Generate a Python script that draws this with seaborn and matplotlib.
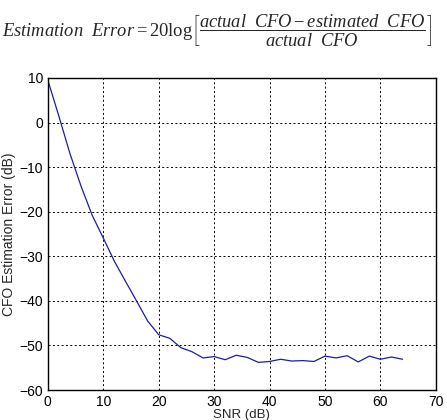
import matplotlib
matplotlib.use("Agg")
import matplotlib.pyplot as plt
import seaborn as sns
import pandas as pd

snr_db = list(range(0, 65, 2))
est_error_db = [9.5, 1.4, -7.0, -14.3, -20.8, -25.9, -31.1, -35.6, -40.0, -44.5,
                -47.6, -48.4, -50.5, -51.4, -52.8, -52.5, -53.2, -52.2, -52.7, -53.8,
                -53.6, -53.1, -53.5, -53.4, -53.6, -52.4, -52.8, -52.3, -53.7, -52.4,
                -53.1, -52.6, -53.1]
x_ticks = [0, 10, 20, 30, 40, 50, 60, 70]
y_ticks = [10, 0, -10, -20, -30, -40, -50, -60]

df = pd.DataFrame({"SNR": snr_db, "Error": est_error_db})

sns.set_style("white")
plt.rcParams["font.family"] = ["Liberation Sans", "DejaVu Sans"]
plt.rcParams["mathtext.fontset"] = "custom"
plt.rcParams["mathtext.rm"] = "Liberation Serif"
plt.rcParams["mathtext.it"] = "Liberation Serif:italic"

fig = plt.figure(figsize=(4.47, 4.20), dpi=100)
ax = fig.add_axes([0.107, 0.0714, 0.868, 0.743])

sns.lineplot(data=df, x="SNR", y="Error", ax=ax, color="#1c1ca8", linewidth=0.9)

ax.set_xlim(0, 70)
ax.set_ylim(-60, 10)
ax.set_xticks(x_ticks)
ax.set_yticks(y_ticks)
ax.tick_params(direction="in", length=4, width=0.8, labelsize=10, colors="black")
ax.grid(True, color="black", linestyle=(0, (2, 2.5)), linewidth=0.7)
for s in ax.spines.values():
    s.set_visible(True)
    s.set_color("black")
    s.set_linewidth(1.0)

ax.set_xlabel("SNR (dB)", fontsize=9.5, labelpad=0)
ax.set_ylabel("CFO Estimation Error (dB)", fontsize=10, labelpad=2)

eq = (r"$Estimation\ \ Error = 20\mathrm{log}\left[\dfrac{actual\ \ CFO - estimated\ \ CFO}"
      r"{actual\ \ CFO}\right]$")
fig.text(0.486, 0.928, eq, ha="center", va="center", fontsize=13.3)

fig.savefig("out.png", dpi=100)
